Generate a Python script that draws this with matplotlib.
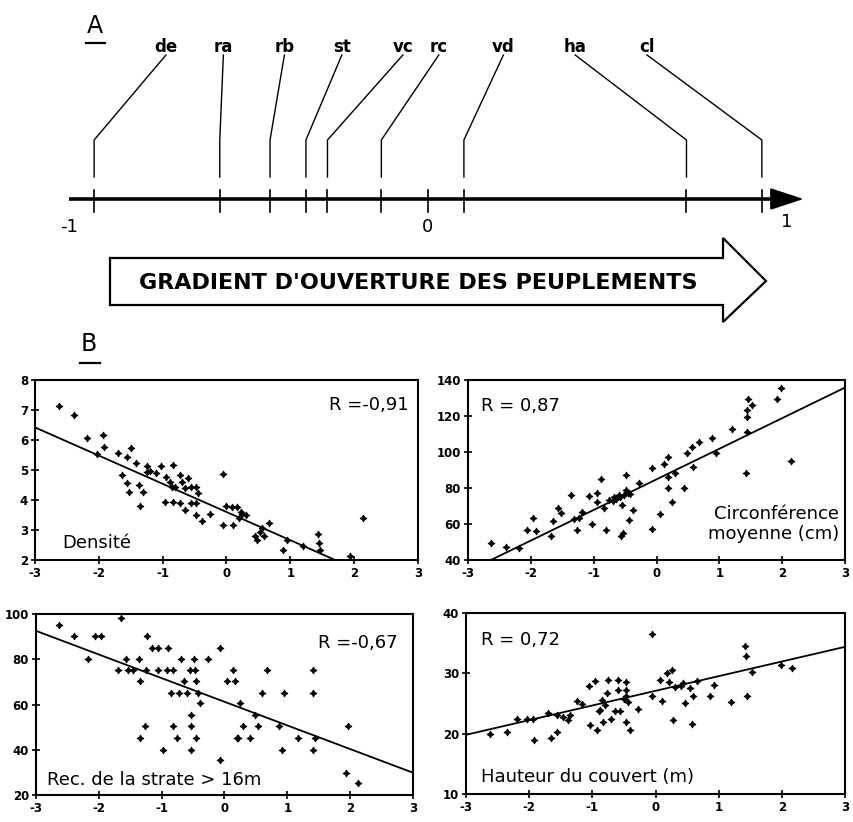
import matplotlib
matplotlib.use("Agg")
import matplotlib.pyplot as plt
import numpy as np

# --- panel A : loadings on the first axis
load_names = ["de", "ra", "rb", "st", "vc", "rc", "vd", "ha", "cl"]
load_vals = [-0.93, -0.58, -0.44, -0.34, -0.28, -0.13, 0.10, 0.72, 0.93]
label_pos = [-0.73, -0.57, -0.40, -0.24, -0.07, 0.03, 0.21, 0.41, 0.61]
axis_ticks = [-1, 0, 1]

gradient_text = "GRADIENT D'OUVERTURE DES PEUPLEMENTS"

# --- panel B : scatter data (scores on axis 1 vs variables)
dens_x = [-2.62, -2.39, -2.18, -1.94, -1.92, -2.03, -1.70, -1.56, -1.50, -1.41,
          -1.63, -1.56, -1.52, -1.37, -1.31, -1.35, -1.25, -1.25, -1.11, -1.03,
          -0.97, -0.84, -0.89, -0.86, -0.81, -0.73, -0.60, -0.65, -0.55, -0.47,
          -0.44, -0.84, -0.73, -0.65, -0.55, -0.47, -0.48, -0.39, -0.26, -0.06,
          -0.06, 0.10, 0.17, 0.23, 0.19, 0.31, 0.44, 0.47, 0.55, 0.58,
          0.67, 0.88, 0.94, 1.20, 1.43, 1.45, 1.46, 1.93, 2.14, -1.20,
          0.00, 0.08, 0.25, 0.52, -0.95, -0.70]
dens_y = [7.13, 6.83, 6.06, 6.17, 5.76, 5.53, 5.58, 5.42, 5.72, 5.22,
          4.83, 4.56, 4.28, 4.50, 4.28, 3.80, 5.13, 4.94, 4.89, 5.13,
          3.94, 5.17, 4.61, 4.44, 4.44, 4.83, 4.72, 4.39, 4.44, 4.44,
          4.24, 3.94, 3.89, 3.67, 3.89, 3.89, 3.50, 3.30, 3.53, 4.87,
          3.17, 3.17, 3.78, 3.61, 3.39, 3.50, 2.81, 2.67, 3.06, 2.81,
          3.24, 2.33, 2.67, 2.47, 2.87, 2.56, 2.33, 2.13, 3.39, 4.95,
          3.80, 3.75, 3.55, 2.95, 4.75, 4.60]
dens_fit = (-0.94, 3.60)

circ_x = [-2.63, -2.40, -2.19, -2.06, -1.96, -1.92, -1.68, -1.64, -1.57, -1.52,
          -1.36, -1.27, -1.24, -1.18, -1.08, -1.02, -0.94, -0.89, -0.84, -0.81,
          -0.76, -0.68, -0.60, -0.55, -0.53, -0.48, -0.48, -0.42, -0.43, -0.37,
          -0.28, -0.07, -0.07, 0.06, 0.12, 0.18, 0.18, 0.19, 0.25, 0.30,
          0.43, 0.49, 0.56, 0.58, 0.67, 0.88, 0.95, 1.20, 1.44, 1.44,
          1.45, 1.52, 1.44, 1.43, 1.92, 1.98, 2.14, -0.70, -0.65, -0.58,
          -0.52, -0.45, -1.32, -0.95, -0.57]
circ_y = [49.6, 47.0, 46.5, 56.7, 63.1, 56.1, 53.3, 61.7, 68.7, 66.3,
          76.1, 56.7, 63.5, 66.9, 75.6, 60.0, 77.4, 84.8, 68.7, 56.7,
          73.3, 75.2, 76.1, 70.6, 54.8, 87.2, 79.0, 76.7, 62.2, 67.8,
          83.0, 90.9, 57.0, 65.6, 93.1, 97.0, 79.8, 86.3, 72.4, 88.5,
          80.2, 99.3, 103.0, 91.9, 105.7, 107.6, 99.3, 112.6, 119.6, 123.3,
          129.4, 126.1, 111.3, 88.5, 129.4, 135.7, 95.0, 73.0, 74.0, 75.0,
          76.0, 77.0, 63.0, 72.0, 53.5]
circ_fit = (17.0, 84.8)

rec_x = [-2.63, -2.40, -2.18, -2.06, -1.96, -1.64, -1.69, -1.57, -1.54, -1.45,
         -1.36, -1.34, -1.24, -1.25, -1.26, -1.34, -1.16, -1.06, -1.06, -0.98,
         -0.90, -0.91, -0.82, -0.85, -0.82, -0.75, -0.69, -0.64, -0.60, -0.55,
         -0.53, -0.53, -0.53, -0.49, -0.47, -0.45, -0.45, -0.42, -0.39, -0.26,
         -0.07, -0.07, 0.04, 0.14, 0.16, 0.20, 0.24, 0.30, 0.41, 0.48,
         0.53, 0.59, 0.67, 0.87, 0.91, 0.94, 1.17, 1.41, 1.41, 1.41,
         1.44, 1.94, 1.97, 2.12, -0.72, 0.22]
rec_y = [95.3, 90.1, 80.1, 90.1, 90.1, 98.2, 75.4, 80.1, 75.4, 75.4,
         80.1, 70.2, 90.4, 75.4, 50.6, 45.1, 84.9, 84.9, 75.4, 39.9,
         84.9, 75.4, 75.4, 65.3, 50.6, 45.1, 80.1, 70.2, 65.3, 75.4,
         55.4, 50.6, 39.9, 80.1, 75.4, 70.2, 45.1, 65.3, 60.6, 80.1,
         84.9, 35.5, 70.2, 75.4, 70.2, 45.1, 60.6, 50.6, 45.1, 55.4,
         50.6, 65.3, 75.4, 50.6, 39.9, 65.3, 45.1, 75.4, 65.3, 39.9,
         45.1, 29.9, 50.6, 25.2, 65.3, 45.1]
rec_fit = (-10.45, 61.2)

haut_x = [-2.62, -2.35, -2.20, -2.04, -1.94, -1.93, -1.70, -1.66, -1.56, -1.56,
          -1.46, -1.38, -1.35, -1.25, -1.17, -1.06, -0.96, -1.04, -0.92, -0.85,
          -0.88, -0.83, -0.77, -0.75, -0.71, -0.64, -0.59, -0.59, -0.56, -0.46,
          -0.46, -0.46, -0.43, -0.40, -0.47, -0.27, -0.06, -0.06, 0.07, 0.11,
          0.18, 0.26, 0.21, 0.28, 0.31, 0.44, 0.47, 0.55, 0.57, 0.60,
          0.65, 0.86, 0.92, 1.19, 1.42, 1.44, 1.45, 1.52, 1.98, 2.16,
          -0.80, -0.90, -0.50, 0.40]
haut_y = [20.0, 20.3, 22.4, 22.4, 22.4, 18.9, 23.4, 19.2, 20.2, 23.1,
          22.8, 22.3, 23.1, 25.4, 24.9, 27.9, 28.8, 21.5, 20.6, 25.6,
          24.0, 22.0, 26.7, 28.9, 22.4, 23.7, 28.9, 27.2, 23.7, 28.5,
          27.3, 26.3, 25.3, 20.6, 22.0, 24.1, 36.5, 26.3, 28.9, 25.4,
          30.0, 30.6, 28.5, 22.3, 27.7, 28.4, 25.1, 27.5, 21.6, 26.3,
          28.7, 26.3, 28.1, 25.3, 34.5, 32.8, 26.3, 30.3, 31.3, 30.9,
          24.8, 23.8, 25.8, 27.9]
haut_fit = (2.43, 27.1)

W, H = 854, 822
fig = plt.figure(figsize=(W / 100, H / 100), dpi=100)

# background axes in pixel units for the layout decorations
bg = fig.add_axes([0, 0, 1, 1])
bg.set_xlim(0, W)
bg.set_ylim(H, 0)
bg.axis("off")

# --- panel A
topH = 240
axA = fig.add_axes([0, 1 - topH / H, 1, topH / H])
axA.set_xlim(-428 / 359, (W - 428) / 359)
axA.set_ylim(topH, 0)
axA.axis("off")

y_axis = 199
axA.plot([-1.0, 0.96], [y_axis, y_axis], color="black", lw=2.6, solid_capstyle="butt")
axA.fill([0.955, 1.04, 0.955], [189, y_axis, 209], color="black")
for v in list(load_vals) + [0]:
    axA.plot([v, v], [190, 212], color="black", lw=1.2)
for name, v, lp in zip(load_names, load_vals, label_pos):
    axA.plot([lp, v, v], [55, 140, 177], color="black", lw=1.0)
    axA.text(lp, 47, name, ha="center", va="center", fontsize=12, fontweight="bold")
for t, yy in zip(axis_ticks, [227, 227, 222]):
    axA.text(t, yy, "%d" % t if t >= 0 else "-1", ha="center", va="center", fontsize=13)

bg.text(95, 26, "A", ha="center", va="center", fontsize=17)
bg.plot([86, 105], [43, 43], color="black", lw=1.6)
bg.text(89, 344, "B", ha="center", va="center", fontsize=17)
bg.plot([80, 100], [363, 363], color="black", lw=1.6)

# gradient arrow
arrow_x = [110, 723, 723, 766, 723, 723, 110, 110]
arrow_y = [258, 258, 238, 281, 322, 305, 305, 258]
bg.plot(arrow_x, arrow_y, color="black", lw=1.6, solid_joinstyle="miter")
bg.text(418, 283, gradient_text, ha="center", va="center", fontsize=16, fontweight="bold")

# --- panel B
def px_axes(l, t, r, b):
    return fig.add_axes([l / W, 1 - b / H, (r - l) / W, (b - t) / H])

marker = (4, 1, 0)
xticks = list(range(-3, 4))

def scatter_panel(ax, xs, ys, fit, ylim, yticks):
    ax.scatter(xs, ys, marker=marker, s=22, color="black", linewidths=0.8)
    xx = np.array([-3, 3])
    ax.plot(xx, fit[0] * xx + fit[1], color="black", lw=1.3)
    ax.set_xlim(-3, 3)
    ax.set_ylim(*ylim)
    ax.set_xticks(xticks, [str(t) for t in xticks], fontweight="bold", fontsize=8.5)
    ax.set_yticks(list(yticks), [str(t) for t in yticks], fontweight="bold", fontsize=8.5)
    ax.tick_params(direction="inout", length=6, width=1.2, pad=2)
    for sp in ax.spines.values():
        sp.set_linewidth(1.5)

ax1 = px_axes(35, 380, 418, 560)
scatter_panel(ax1, dens_x, dens_y, dens_fit, (2, 8), range(2, 9))
ax1.text(0.975, 0.86, "R =-0,91", transform=ax1.transAxes, ha="right", va="center", fontsize=13)
ax1.text(0.07, 0.095, "Densité", transform=ax1.transAxes, ha="left", va="center", fontsize=13)

ax2 = px_axes(468, 380, 845, 560)
scatter_panel(ax2, circ_x, circ_y, circ_fit, (40, 140), range(40, 141, 20))
ax2.text(0.035, 0.855, "R = 0,87", transform=ax2.transAxes, ha="left", va="center", fontsize=13)
ax2.text(0.985, 0.2, "Circonférence\nmoyenne (cm)", transform=ax2.transAxes, ha="right",
         va="center", fontsize=13, linespacing=1.1, multialignment="right")

ax3 = px_axes(36, 614, 413, 795)
scatter_panel(ax3, rec_x, rec_y, rec_fit, (20, 100), range(20, 101, 20))
ax3.text(0.96, 0.84, "R =-0,67", transform=ax3.transAxes, ha="right", va="center", fontsize=13)
ax3.text(0.03, 0.085, "Rec. de la strate > 16m", transform=ax3.transAxes, ha="left",
         va="center", fontsize=13)

ax4 = px_axes(466, 613, 845, 794)
scatter_panel(ax4, haut_x, haut_y, haut_fit, (10, 40), range(10, 41, 10))
ax4.text(0.04, 0.85, "R = 0,72", transform=ax4.transAxes, ha="left", va="center", fontsize=13)
ax4.text(0.04, 0.095, "Hauteur du couvert (m)", transform=ax4.transAxes, ha="left",
         va="center", fontsize=13)

fig.savefig("out.png", dpi=100)
